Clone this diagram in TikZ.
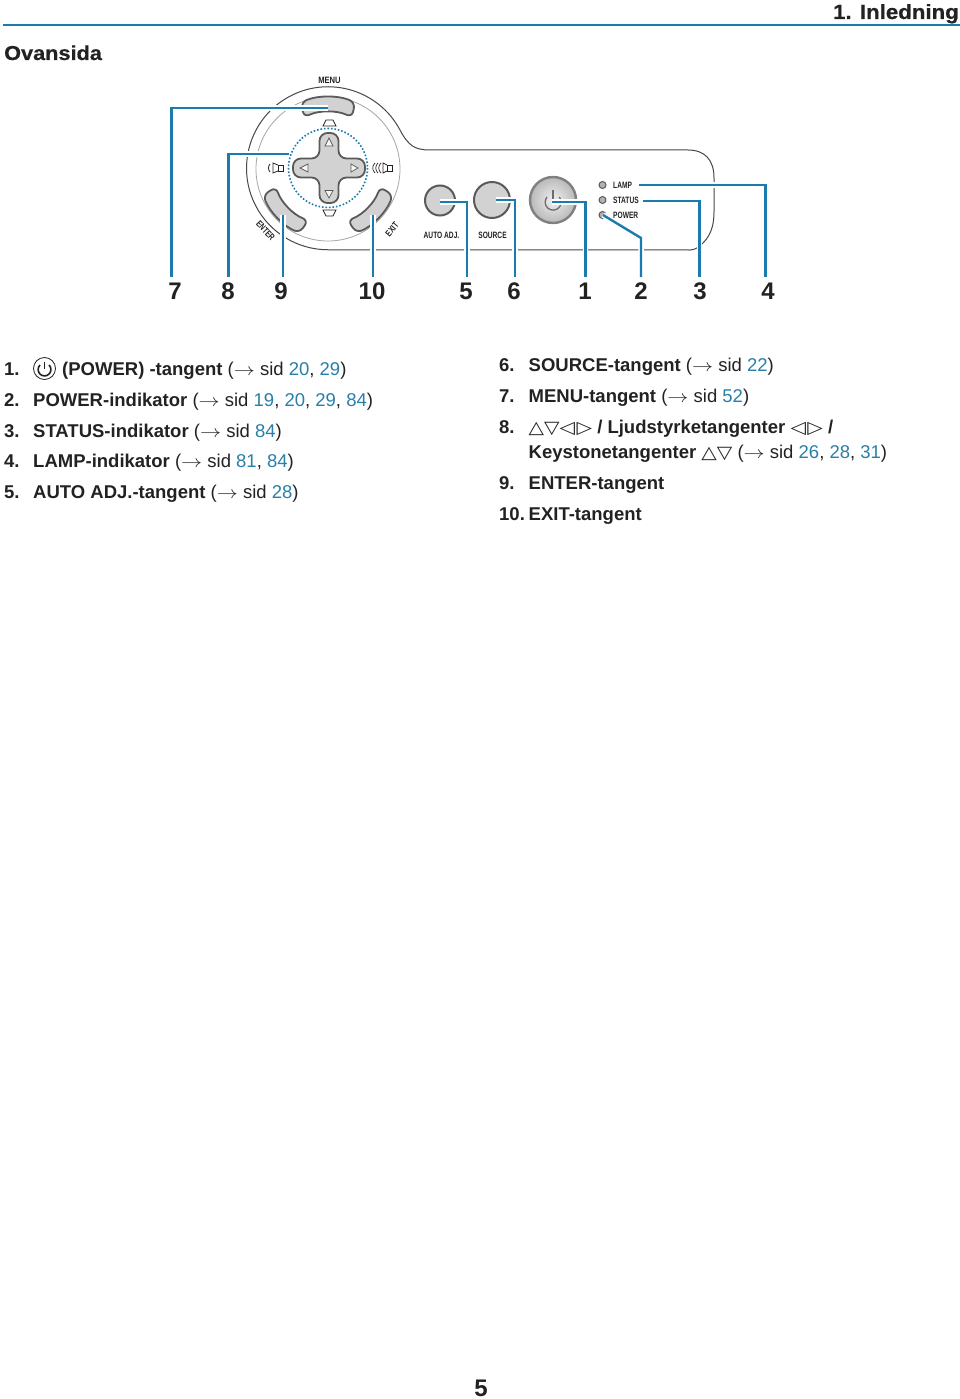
\documentclass[tikz,border=0pt]{standalone}
\usepackage{fontspec}
\setmainfont{Liberation Sans}
\newfontfamily\narrowfont[FakeStretch=0.72]{Liberation Sans}
\newfontfamily\headfont[FakeStretch=1.08,BoldFeatures={FakeBold=0.6}]{Liberation Sans}
\newfontfamily\symbfont[FakeStretch=1.15]{DejaVu Sans}
\usetikzlibrary{arrows.meta,shapes,positioning,calc}

\definecolor{calloutblue}{HTML}{1B7BAE}
\definecolor{linkblue}{HTML}{2A7FA8}
\definecolor{inkgray}{HTML}{222222}
\definecolor{btngray}{HTML}{D2D2D2}
\definecolor{btnedge}{HTML}{5A5A5A}

\newcommand{\pg}[1]{\textcolor{linkblue}{#1}}
\newcommand{\seeref}{(\scalebox{1.22}[1]{$\rightarrow$} sid}
\newcommand{\syms}[1]{{\symbfont\mdseries\fontsize{17.5}{17.5}\selectfont #1}}

\tikzset{
  callout/.style={draw=calloutblue, line width=2.4pt, line join=miter,
    preaction={draw=white, line width=5.5pt}},
  bignum/.style={anchor=base, inner sep=0pt, text=inkgray, font=\fontsize{24}{24}\selectfont\bfseries},
  keylabel/.style={inner sep=0pt, text=inkgray, font=\narrowfont\bfseries\fontsize{9.2}{9.2}\selectfont},
  itemnum/.style={anchor=base west, inner sep=0pt, text=inkgray, font=\fontsize{18.5}{22}\selectfont\bfseries},
  itemtext/.style={anchor=base west, inner sep=0pt, text=inkgray, font=\fontsize{18.5}{22}\selectfont},
  roundkey/.style={circle, draw=btnedge, line width=2pt, fill=btngray, inner sep=0pt},
  led/.style={circle, draw=btnedge, line width=1pt, fill=gray!60, inner sep=0pt, minimum size=7pt},
  tiny tri/.style={draw=btnedge, line width=0.7pt, fill=white!80!btngray},
  crescent/.style={draw=btnedge, line width=1.8pt, fill=btngray, rounded corners=6pt},
}

\begin{document}
\begin{tikzpicture}[x=1pt, y=-1pt]
  \useasboundingbox (0,0) rectangle (960,1399);
  \fill[white] (0,0) rectangle (960,1399);

  % Header
  \node[anchor=base east, inner sep=0pt, text=inkgray, font=\headfont\bfseries\fontsize{20.6}{21}\selectfont] (chapter) at (959,19) {1. Inledning};
  \draw[calloutblue, line width=1.6pt] (3,25) -- (960,25);
  \node[anchor=base west, inner sep=0pt, text=inkgray, font=\headfont\bfseries\fontsize{20.1}{21}\selectfont] (title) at (4,60) {Ovansida};

  % Panel outline
  \draw[btnedge!80!black, line width=1pt] (703,243) .. controls (711,235) and (714,225) .. (714,212) -- (714,178)
    .. controls (714,160) and (705,150) .. (688,150) -- (430,150)
    .. controls (415,150) and (408.5,146) .. (400,130)
    arc[start angle=332, end angle=90, radius=81.5] -- (690,250)
    .. controls (695,250) and (699,247) .. (703,243);
  \draw[gray!70, line width=0.8pt] (328,169) circle (72);

  % Menu, enter and exit keys
  \draw[crescent] (328,169) ++(248:72) arc[start angle=248, end angle=292, radius=72]
    -- ($(328,169)+(295:57)$) arc[start angle=295, end angle=245, radius=57] -- cycle;
  \draw[crescent] (328,169) ++(158:70) arc[start angle=158, end angle=114, radius=70]
    -- ($(328,169)+(111:55)$) arc[start angle=111, end angle=161, radius=55] -- cycle;
  \draw[crescent] (328,169) ++(22:70) arc[start angle=22, end angle=66, radius=70]
    -- ($(328,169)+(69:55)$) arc[start angle=69, end angle=19, radius=55] -- cycle;

  % Cross key
  \draw[btnedge, line width=1.8pt, fill=btngray, rounded corners=8pt]
    (319.5,133) -- (338.5,133) -- (338.5,158.5) -- (365,158.5) -- (365,177.5) -- (338.5,177.5)
    -- (338.5,203) -- (319.5,203) -- (319.5,177.5) -- (293,177.5) -- (293,158.5) -- (319.5,158.5) -- cycle;
  \draw[calloutblue, line width=1.6pt, dash pattern=on 1.6pt off 1.9pt] (328,168) circle (39.5);
  \draw[tiny tri] (329,138) -- (333,146) -- (325,146) -- cycle;
  \draw[tiny tri] (329,198) -- (333,190.5) -- (325,190.5) -- cycle;
  \draw[tiny tri] (300,168) -- (308,164) -- (308,172) -- cycle;
  \draw[tiny tri] (358,168) -- (351,164) -- (351,172) -- cycle;

  % Keystone marks
  \draw[inkgray, line width=0.8pt] (323,126) -- (326,120) -- (333,120) -- (336,126) -- cycle;
  \draw[inkgray, line width=0.8pt] (323,210) -- (326,216) -- (333,216) -- (336,210) -- cycle;

  % Volume marks
  \draw[inkgray, line width=0.8pt] (278,165) rectangle (283,171);
  \draw[inkgray, line width=0.8pt] (278,165) -- (273,163) -- (273,173) -- (278,171);
  \draw[inkgray, line width=0.8pt] (270,164) .. controls (268,166) and (268,170) .. (270,172);
  \draw[inkgray, line width=0.8pt] (387,165) rectangle (392,171);
  \draw[inkgray, line width=0.8pt] (387,165) -- (383,163) -- (383,173) -- (387,171);
  \foreach \xx in {373,376,379} {
    \draw[inkgray, line width=0.7pt] (\xx+2,163) .. controls (\xx-1,166) and (\xx-1,170) .. (\xx+2,173);
  }

  % Round keys
  \node[roundkey, minimum size=30pt] (autokey) at (440,200.5) {};
  \node[roundkey, minimum size=36pt] (sourcekey) at (492,200) {};
  \node[circle, draw=gray, line width=2.4pt, inner color=gray!12, outer color=gray!55, inner sep=0pt, minimum size=46pt] (powerkey) at (553,200) {};
  \draw[gray!85!black, line width=1.3pt] (547,197) arc[start angle=220, end angle=-40, radius=8];
  \draw[gray!85!black, line width=1.3pt] (553,190) -- (553,201);

  % Indicators
  \node[led] (lampled) at (602.5,185) {};
  \node[led] (statusled) at (602.5,200) {};
  \node[led] (powerled) at (602.5,215) {};

  % Panel labels
  \node[keylabel] (menulabel) at (329.5,80) {\scalebox{1.15}[1]{MENU}};
  \node[keylabel, rotate=-47] (enterlabel) at (265.5,230.5) {ENTER};
  \node[keylabel, rotate=50] (exitlabel) at (392,229.5) {EXIT};
  \node[keylabel] (autolabel) at (441.5,235.5) {AUTO ADJ.};
  \node[keylabel] (sourcelabel) at (492.5,235.5) {SOURCE};
  \node[keylabel, anchor=west] (lamplabel) at (613,185) {LAMP};
  \node[keylabel, anchor=west] (statuslabel) at (613,200) {STATUS};
  \node[keylabel, anchor=west] (powerlabel) at (613,215) {POWER};

  % Callout numbers
  \node[bignum] (num7) at (175,299) {7};
  \node[bignum] (num8) at (228,299) {8};
  \node[bignum] (num9) at (281,299) {9};
  \node[bignum] (num10) at (372,299) {10};
  \node[bignum] (num5) at (466,299) {5};
  \node[bignum] (num6) at (514,299) {6};
  \node[bignum] (num1) at (585,299) {1};
  \node[bignum] (num2) at (641,299) {2};
  \node[bignum] (num3) at (700,299) {3};
  \node[bignum] (num4) at (768,299) {4};

  % Callout lines
  \coordinate (menutip) at (328,108);
  \coordinate (crosstip) at (289,154);
  \coordinate (entertip) at (283,215);
  \coordinate (exittip) at (373,215);
  \coordinate (autotip) at (440,202);
  \coordinate (sourcetip) at (496,200);
  \coordinate (powertip) at (552,202);
  \coordinate (ledtip) at (603,215);
  \coordinate (bend2) at (641,238);
  \coordinate (statustip) at (643,201);
  \coordinate (lamptip) at (639,185);
  \foreach \name/\xx in {end7/171.5, end8/228.5, end9/283, end10/373, end5/467, end6/515, end1/585.5, end2/641, end3/699.5, end4/765.5} {
    \coordinate (\name) at (\xx,277);
  }
  \draw[callout] (menutip) -| (end7);
  \draw[callout] (crosstip) -| (end8);
  \draw[callout] (entertip) -- (end9);
  \draw[callout] (exittip) -- (end10);
  \draw[callout] (autotip) -| (end5);
  \draw[callout] (sourcetip) -| (end6);
  \draw[callout] (powertip) -| (end1);
  \draw[callout] (ledtip) -- (bend2) -- (end2);
  \draw[callout] (statustip) -| (end3);
  \draw[callout] (lamptip) -| (end4);

  % Left list
  \node[itemnum] (item1) at (4,375) {1.};
  \node[circle, draw=inkgray, line width=0.8pt, inner sep=0pt, minimum size=22pt] (powericon) at (44.5,368.5) {};
  \draw[inkgray, line width=1.6pt] (40,365) arc[start angle=225, end angle=-45, radius=6.4];
  \draw[inkgray, line width=1.6pt] (44.5,361.5) -- (44.5,369);
  \node[itemtext] (text1) at (62,375) {\textbf{(POWER) -tangent} \seeref{} \pg{20}, \pg{29})};
  \node[itemnum] (item2) at (4,406) {2.};
  \node[itemtext] (text2) at (33,406) {\textbf{POWER-indikator} \seeref{} \pg{19}, \pg{20}, \pg{29}, \pg{84})};
  \node[itemnum] (item3) at (4,437) {3.};
  \node[itemtext] (text3) at (33,437) {\textbf{STATUS-indikator} \seeref{} \pg{84})};
  \node[itemnum] (item4) at (4,467) {4.};
  \node[itemtext] (text4) at (33,467) {\textbf{LAMP-indikator} \seeref{} \pg{81}, \pg{84})};
  \node[itemnum] (item5) at (4,498) {5.};
  \node[itemtext] (text5) at (33,498) {\textbf{AUTO ADJ.-tangent} \seeref{} \pg{28})};

  % Right list
  \node[itemnum] (item6) at (499,371) {6.};
  \node[itemtext] (text6) at (528.5,371) {\textbf{SOURCE-tangent} \seeref{} \pg{22})};
  \node[itemnum] (item7) at (499,402) {7.};
  \node[itemtext] (text7) at (528.5,402) {\textbf{MENU-tangent} \seeref{} \pg{52})};
  \node[itemnum] (item8) at (499,433) {8.};
  \node[itemtext] (text8) at (528.5,433) {\syms{△▽◁\kern1.5pt▷} \textbf{/ Ljudstyrketangenter} \syms{◁\kern1.5pt▷} \textbf{/}};
  \node[itemtext] (text8b) at (528.5,458) {\textbf{Keystonetangenter} \syms{△▽} \seeref{} \pg{26}, \pg{28}, \pg{31})};
  \node[itemnum] (item9) at (499,489) {9.};
  \node[itemtext] (text9) at (528.5,489) {\textbf{ENTER-tangent}};
  \node[itemnum] (item10) at (499,520) {10.};
  \node[itemtext] (text10) at (528.5,520) {\textbf{EXIT-tangent}};

  % Page number
  \node[bignum] (pagenum) at (481,1396) {5};
\end{tikzpicture}
\end{document}
